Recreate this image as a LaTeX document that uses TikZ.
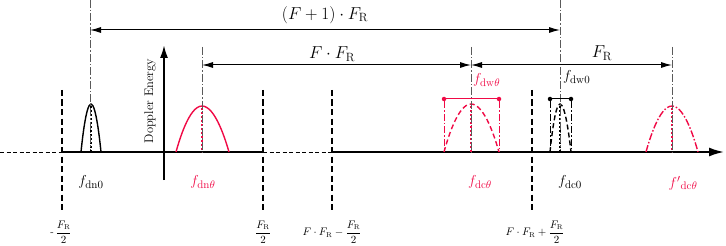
\documentclass[tikz,border=0pt]{standalone}
\usepackage{amsmath}
\usetikzlibrary{arrows.meta}
\definecolor{myred}{RGB}{240,10,70}
\definecolor{guide}{RGB}{90,90,90}
\begin{document}
\begin{tikzpicture}[x=1pt,y=-1pt,
  sep/.style={line width=2.6pt, dash pattern=on 6pt off 3.5pt},
  guideline/.style={guide, line width=0.7pt, dash pattern=on 8pt off 2pt on 1.5pt off 2pt},
  dashdot/.style={line width=0.9pt, dash pattern=on 7pt off 2pt on 1.5pt off 2pt},
  axisline/.style={line width=1.8pt},
  thindash/.style={line width=0.7pt, dash pattern=on 4pt off 2.5pt},
  dim/.style={line width=1pt, {Latex[length=11pt,width=6pt]}-{Latex[length=11pt,width=6pt]}},
  cdot/.style={line width=2pt, dash pattern=on 2pt off 2pt},
  peak/.style={line width=1.4pt},
  lbl/.style={font=\fontsize{15}{18}\selectfont, inner sep=1pt},
  toplbl/.style={font=\fontsize{18}{21}\selectfont, inner sep=1pt},
  botlbl/.style={font=\fontsize{10.5}{12}\selectfont, inner sep=1pt},
  enddot/.style={circle, fill, inner sep=0pt, minimum size=4.5pt},
]
\useasboundingbox (0,0) rectangle (726,246);

% axis
\coordinate (a0) at (0,152);
\coordinate (s1) at (62,152);
\coordinate (s2) at (263,152);
\coordinate (s3) at (332,152);
\coordinate (s4) at (532,152);
\coordinate (aend) at (724,152);
\draw[thindash] (a0) -- (s1);
\draw[axisline] (s1) -- (s2);
\draw[thindash] (s2) -- (s3);
\draw[axisline, -{Latex[length=15pt,width=9pt]}] (s3) -- (aend);

% separators
\foreach \n/\x in {1/62,2/263,3/332,4/532}{
  \coordinate (t\n) at (\x,90);
  \coordinate (b\n) at (\x,213);
  \draw[sep] (t\n) -- (b\n);
}

% Doppler energy axis
\coordinate (dv0) at (164,180);
\coordinate (dv1) at (164,45);
\draw[line width=2pt, -{Latex[length=13pt,width=8pt]}] (dv0) -- (dv1);
\node[rotate=90, font=\fontsize{12.5}{14}\selectfont, inner sep=0pt] (dlab) at (150,101) {Doppler Energy};

% peaks
\draw[peak] (81,152) parabola bend (91,104) (101,152);
\draw[cdot] (91,106) -- (91,152);
\draw[peak, myred] (176,152) parabola bend (202,106) (229,152);
\draw[cdot, myred] (202,108) -- (202,152);
\draw[peak, myred, dash pattern=on 5pt off 3pt] (444,152) parabola bend (471,104) (499,152);
\draw[cdot, myred] (471,106) -- (471,152);
\draw[peak, dash pattern=on 5pt off 3pt] (550,152) parabola bend (560,104) (571,152);
\draw[cdot] (560,106) -- (560,152);
\draw[peak, myred, dash pattern=on 7pt off 2pt on 1.5pt off 2pt] (646,152) parabola bend (672,106) (698,152);
\draw[cdot, myred] (672,108) -- (672,152);

% guide lines
\coordinate (g1t) at (90,0);    \coordinate (g1b) at (90,150);
\coordinate (g2t) at (560,0);   \coordinate (g2b) at (560,150);
\coordinate (g3t) at (202,47);  \coordinate (g3b) at (202,152);
\coordinate (g4t) at (471,47);  \coordinate (g4b) at (471,152);
\coordinate (g5t) at (672,47);  \coordinate (g5b) at (672,152);
\foreach \n in {1,...,5}{\draw[guideline] (g\n t) -- (g\n b);}

% width markers
\node[enddot, myred] (wr1) at (444,99) {};
\node[enddot, myred] (wr2) at (499,99) {};
\draw[myred, line width=1pt] (wr1) -- (wr2);
\coordinate (wr1b) at (444,152); \coordinate (wr2b) at (499,152);
\draw[dashdot, myred] (wr1) -- (wr1b);
\draw[dashdot, myred] (wr2) -- (wr2b);
\node[enddot] (wb1) at (550,99) {};
\node[enddot] (wb2) at (571,99) {};
\draw[line width=1pt] (wb1) -- (wb2);
\coordinate (wb1b) at (550,152); \coordinate (wb2b) at (571,152);
\draw[dashdot, line width=0.7pt] (wb1) -- (wb1b);
\draw[dashdot, line width=0.7pt] (wb2) -- (wb2b);

% dimension arrows
\coordinate (d1a) at (90,30);  \coordinate (d1b) at (560,30);
\coordinate (d2a) at (202,65); \coordinate (d2b) at (471,65);
\coordinate (d3a) at (471,65); \coordinate (d3b) at (672,65);
\draw[dim] (d1a) -- (d1b);
\draw[dim] (d2a) -- (d2b);
\draw[dim] (d3a) -- (d3b);
\node[toplbl] (l1) at (325,15) {$(F+1)\cdot F_{\mathrm{R}}$};
\node[toplbl] (l2) at (332,54) {$F\cdot F_{\mathrm{R}}$};
\node[toplbl] (l3) at (602,53) {$F_{\mathrm{R}}$};

% labels
\node[lbl] (fdn0) at (91,182) {$f_{\mathrm{dn}0}$};
\node[lbl, myred] (fdnt) at (203,182) {$f_{\mathrm{dn}\theta}$};
\node[lbl, myred] (fdct) at (480,182) {$f_{\mathrm{dc}\theta}$};
\node[lbl] (fdc0) at (570,182) {$f_{\mathrm{dc}0}$};
\node[lbl, myred] (fdcp) at (683,183) {$f'{}_{\mathrm{dc}\theta}$};
\node[lbl, myred, anchor=west] (fdwt) at (472,80) {$f_{\mathrm{dw}\theta}$};
\node[lbl, anchor=west] (fdw0) at (562,77) {$f_{\mathrm{dw}0}$};

% bottom labels
\node[botlbl] (bl1) at (61,232) {$\text{-}\,\dfrac{F_{\mathrm{R}}}{2}$};
\node[botlbl] (bl2) at (263,232) {$\dfrac{F_{\mathrm{R}}}{2}$};
\node[botlbl] (bl3) at (332,232) {$F\cdot F_{\mathrm{R}}-\dfrac{F_{\mathrm{R}}}{2}$};
\node[botlbl] (bl4) at (535,232) {$F\cdot F_{\mathrm{R}}+\dfrac{F_{\mathrm{R}}}{2}$};
\end{tikzpicture}
\end{document}
